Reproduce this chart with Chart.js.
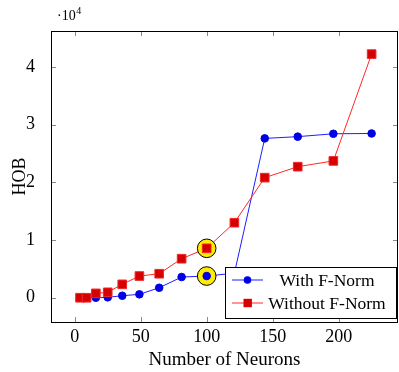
<!DOCTYPE html>
<html>
<head>
<meta charset="utf-8">
<script src="https://cdn.jsdelivr.net/npm/chart.js@4"></script>
<style>
  body { margin: 0; background: #fff; }
  #wrap { width: 399px; height: 372px; }
</style>
</head>
<body>
<div id="wrap"><canvas id="hobChart" width="399" height="372"></canvas></div>
<script>
// neurons = perfect squares
const neurons = [4, 9, 16, 25, 36, 49, 64, 81, 100, 121, 144, 169, 196, 225];
const withFNorm = [0, 0, 0, 70, 350, 590, 1730, 3590, 3760, 4250, 27600, 27900, 28400, 28450];
const withoutFNorm = [0, 0, 760, 940, 2320, 3760, 4160, 6760, 8560, 13000, 20800, 22700, 23700, 42200];
const seriesNames = ['With F-Norm', 'Without F-Norm'];
const xTicks = [0, 50, 100, 150, 200];
const yTicks = [0, 10000, 20000, 30000, 40000];
const highlightAt = 100; // circled point

const serif = "'Liberation Serif', 'DejaVu Serif', serif";

function pts(ys) {
    return neurons.map((x, i) => ({ x: x, y: ys[i] }));
}

// frame, inward ticks, circled points, legend box and the 10^4 factor
const pgfLook = {
    id: 'pgfLook',
    afterDatasetsDraw(chart) {
        const ctx = chart.ctx;
        const idx = neurons.indexOf(highlightAt);
        [0, 1].forEach(function (d) {
            const el = chart.getDatasetMeta(d).data[idx];
            ctx.save();
            ctx.beginPath();
            ctx.arc(el.x, el.y, 9.3, 0, Math.PI * 2);
            ctx.fillStyle = 'rgb(255,236,0)';
            ctx.fill();
            ctx.lineWidth = 1;
            ctx.strokeStyle = '#000';
            ctx.stroke();
            ctx.restore();
            el.draw(ctx, chart.chartArea);
        });
    },
    afterDraw(chart) {
        const ctx = chart.ctx;
        const a = chart.chartArea;
        const xs = chart.scales.x, ys = chart.scales.y;
        ctx.save();

        // tick marks pointing inside, on all four sides
        ctx.strokeStyle = '#8a8a8a';
        ctx.lineWidth = 1;
        ctx.beginPath();
        xs.ticks.forEach(function (t) {
            const px = Math.round(xs.getPixelForValue(t.value)) + 0.5;
            ctx.moveTo(px, a.bottom); ctx.lineTo(px, a.bottom - 5);
            ctx.moveTo(px, a.top); ctx.lineTo(px, a.top + 5);
        });
        ys.ticks.forEach(function (t) {
            const py = Math.round(ys.getPixelForValue(t.value)) + 0.5;
            ctx.moveTo(a.left, py); ctx.lineTo(a.left + 5, py);
            ctx.moveTo(a.right, py); ctx.lineTo(a.right - 5, py);
        });
        ctx.stroke();

        // axis box
        ctx.strokeStyle = '#000';
        ctx.strokeRect(a.left + 0.5, a.top + 0.5, a.right - a.left - 1, a.bottom - a.top);

        // legend
        const lx = 225.5, ly = 267.5, lw = 171, lh = 51;
        ctx.fillStyle = '#fff';
        ctx.fillRect(lx, ly, lw, lh);
        ctx.strokeStyle = '#000';
        ctx.strokeRect(lx, ly, lw, lh);
        const rows = [280, 303];
        chart.data.datasets.slice(0, 2).forEach(function (ds, i) {
            const y = rows[i];
            ctx.strokeStyle = ds.borderColor;
            ctx.lineWidth = 1;
            ctx.beginPath();
            ctx.moveTo(232, y); ctx.lineTo(263, y);
            ctx.stroke();
            ctx.fillStyle = ds.pointBackgroundColor;
            if (ds.pointStyle === 'rect') {
                ctx.fillRect(243.5, y - 4.2, 8.4, 8.4);
            } else {
                ctx.beginPath();
                ctx.arc(247.5, y, 3.8, 0, Math.PI * 2);
                ctx.fill();
            }
            ctx.fillStyle = '#000';
            ctx.font = '17.5px ' + serif;
            ctx.textAlign = 'center';
            ctx.textBaseline = 'middle';
            ctx.fillText(ds.label, 327, y + 1);
        });

        // scale factor above the y axis
        ctx.fillStyle = '#000';
        ctx.textAlign = 'left';
        ctx.textBaseline = 'alphabetic';
        ctx.font = '14px ' + serif;
        ctx.fillText('\u00b710', 57, 20);
        const w = ctx.measureText('\u00b710').width;
        ctx.font = '10px ' + serif;
        ctx.fillText('4', 57 + w + 0.5, 14);
        ctx.restore();
    }
};

const config = {
    type: 'line',
    data: {
        datasets: [
            {
                label: seriesNames[0],
                data: pts(withFNorm),
                borderColor: 'rgb(30,30,255)',
                borderWidth: 1,
                pointStyle: 'circle',
                pointRadius: 3.8,
                pointBackgroundColor: 'rgb(0,0,230)',
                pointBorderColor: 'rgb(0,0,230)',
                pointBorderWidth: 1,
                tension: 0,
                order: 2
            },
            {
                label: seriesNames[1],
                data: pts(withoutFNorm),
                borderColor: 'rgb(255,40,40)',
                borderWidth: 1,
                pointStyle: 'rect',
                pointRadius: 6.1,
                pointBackgroundColor: 'rgb(214,0,0)',
                pointBorderColor: 'rgb(240,40,40)',
                pointBorderWidth: 1,
                tension: 0,
                order: 1
            }
        ]
    },
    options: {
        responsive: false,
        animation: false,
        layout: {
            autoPadding: false,
            padding: { top: 31, right: 1, left: 0, bottom: 0 }
        },
        plugins: {
            legend: { display: false },
            tooltip: { enabled: false }
        },
        scales: {
            x: {
                type: 'linear',
                min: -18,
                max: 245,
                grid: { display: false },
                border: { display: false },
                afterBuildTicks: function (s) { s.ticks = xTicks.map(v => ({ value: v })); },
                ticks: {
                    padding: -4,
                    maxRotation: 0,
                    color: '#000',
                    font: { family: serif, size: 18 }
                },
                title: {
                    display: true,
                    text: 'Number of Neurons',
                    color: '#000',
                    padding: 1,
                    font: { family: serif, size: 19 }
                },
                afterFit: function (s) {
                    s.height = 50;
                    s.paddingLeft = 0;
                    s.paddingRight = 0;
                }
            },
            y: {
                min: -4200,
                max: 46200,
                grid: { display: false },
                border: { display: false },
                afterBuildTicks: function (s) { s.ticks = yTicks.map(v => ({ value: v })); },
                ticks: {
                    padding: 8,
                    color: '#000',
                    font: { family: serif, size: 18 },
                    callback: function (v) { return v / 10000; }
                },
                title: {
                    display: true,
                    text: 'HOB',
                    color: '#000',
                    padding: 9,
                    font: { family: serif, size: 18 }
                },
                afterFit: function (s) {
                    s.width = 51;
                    s.paddingTop = 0;
                    s.paddingBottom = 0;
                }
            }
        }
    },
    plugins: [pgfLook]
};

var ctx = document.getElementById('hobChart').getContext('2d');
var hobChart = new Chart(ctx, config);
</script>
</body>
</html>
